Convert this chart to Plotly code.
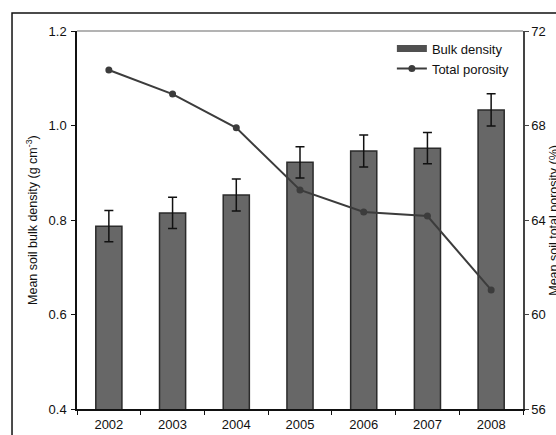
import plotly.graph_objects as go

# Soil measurements by year
years = ["2002", "2003", "2004", "2005", "2006", "2007", "2008"]
bulk_density = [0.787, 0.815, 0.853, 0.922, 0.946, 0.952, 1.033]   # g cm-3
bulk_density_err = [0.033, 0.033, 0.034, 0.033, 0.034, 0.033, 0.034]
total_porosity = [70.35, 69.33, 67.90, 65.27, 64.34, 64.17, 61.04]  # %

left_ticks = [0.4, 0.6, 0.8, 1.0, 1.2]
left_tick_text = ["0.4", "0.6", "0.8", "1.0", "1.2"]
right_ticks = [56, 60, 64, 68, 72]

FONT = "Liberation Sans, Arial, sans-serif"
BAR_FILL = "#676767"

fig = go.Figure()

fig.add_trace(go.Bar(
    x=years, y=bulk_density, name="Bulk density",
    marker=dict(color=BAR_FILL, line=dict(color="#2b2b2b", width=1.5)),
    width=0.41,
    error_y=dict(type="data", array=bulk_density_err, color="#111111",
                 thickness=1.5, width=4.5),
    yaxis="y", legendgroup="bd", showlegend=False,
))

# wide flat swatch for the bar series in the legend
fig.add_trace(go.Scatter(
    x=[None], y=[None], name="Bulk density", mode="lines",
    line=dict(color="#505050", width=7),
    legendgroup="bd", hoverinfo="skip",
))

fig.add_trace(go.Scatter(
    x=years, y=total_porosity, name="Total porosity",
    mode="lines+markers",
    line=dict(color="#3c3c3c", width=2),
    marker=dict(color="#3c3c3c", size=7),
    yaxis="y2",
))

fig.update_layout(
    width=556, height=435,
    margin=dict(l=77, r=33, t=31, b=26, autoexpand=False),
    paper_bgcolor="white", plot_bgcolor="white",
    font=dict(family=FONT, size=13, color="#111111"),
    bargap=0.59,
    showlegend=True,
    legend=dict(x=0.706, y=0.993, xanchor="left", yanchor="top",
                bgcolor="rgba(0,0,0,0)", font=dict(size=13),
                tracegroupgap=0, itemwidth=30),
    xaxis=dict(type="category", tickson="boundaries", ticks="outside",
               ticklen=4, tickwidth=1.2, tickcolor="#111111",
               showline=True, linecolor="#111111", linewidth=1.5,
               showgrid=False, zeroline=False, range=[-0.5, 6.5],
               ticklabelstandoff=3, automargin=False),
    yaxis=dict(range=[0.4, 1.2], tickvals=left_ticks, ticktext=left_tick_text,
               ticks="outside", ticklen=4, tickwidth=1.2, tickcolor="#111111",
               showline=True, linecolor="#111111", linewidth=1.5,
               showgrid=False, zeroline=False, ticklabelstandoff=2,
               automargin=False),
    yaxis2=dict(range=[56, 72], tickvals=right_ticks, overlaying="y", side="right",
                ticks="outside", ticklen=4, tickwidth=1.2, tickcolor="#444444",
                showline=True, linecolor="#444444", linewidth=1.5,
                showgrid=False, zeroline=False, automargin=False),
    # inner halves of the crossing tick marks
    xaxis3=dict(overlaying="x", range=[-0.5, 6.5],
                tickvals=[-0.5, 0.5, 1.5, 2.5, 3.5, 4.5, 5.5, 6.5],
                ticks="inside", ticklen=4, tickwidth=1.2, tickcolor="#111111",
                showticklabels=False, showline=False, showgrid=False,
                zeroline=False, automargin=False),
    yaxis3=dict(overlaying="y", range=[0.4, 1.2], tickvals=left_ticks,
                ticks="inside", ticklen=4, tickwidth=1.2, tickcolor="#111111",
                showticklabels=False, showline=False, showgrid=False,
                zeroline=False, automargin=False),
    yaxis4=dict(overlaying="y", side="right", range=[56, 72], tickvals=right_ticks,
                ticks="inside", ticklen=4, tickwidth=1.2, tickcolor="#444444",
                showticklabels=False, showline=False, showgrid=False,
                zeroline=False, automargin=False),
    shapes=[
        # grey top edge of the plot area
        dict(type="line", xref="paper", yref="paper", x0=0, x1=1, y0=1, y1=1,
             line=dict(color="#9a9a9a", width=1.5)),
        # outer frame
        dict(type="rect", xref="paper", yref="paper",
             x0=-0.1457, x1=1.3, y0=-0.3, y1=1.0476,
             line=dict(color="#111111", width=1.5), layer="below"),
    ],
    annotations=[
        dict(text="Mean soil bulk density (g cm<sup>-3</sup>)",
             xref="paper", yref="paper", x=-0.101, y=0.5,
             textangle=-90, showarrow=False, font=dict(size=12.5),
             xanchor="center", yanchor="middle"),
        dict(text="Mean soil total porosity (%)",
             xref="paper", yref="paper", x=1.069, y=0.5,
             textangle=-90, showarrow=False, font=dict(size=12.5),
             xanchor="center", yanchor="middle"),
    ],
)

fig.write_html("out.html")
